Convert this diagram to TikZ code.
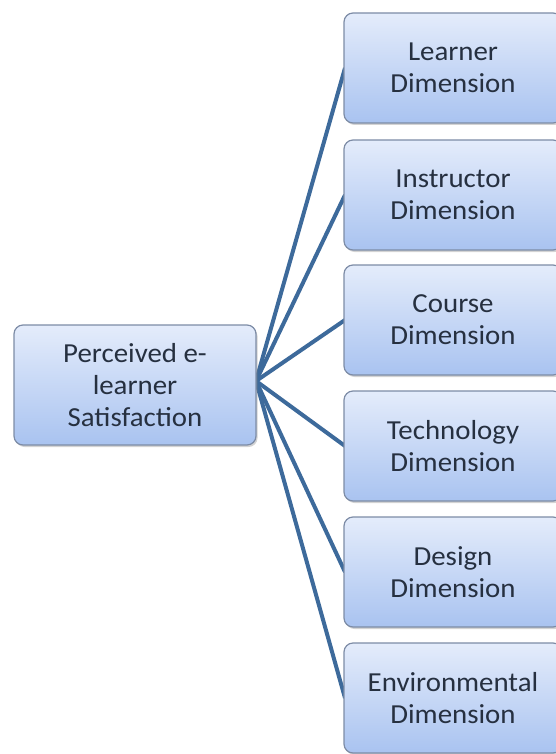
\documentclass[tikz,border=0pt]{standalone}
\usepackage{fontspec}
\setmainfont[FakeStretch=1.05]{Carlito}
\usetikzlibrary{shadows}

\definecolor{boxtop}{HTML}{E4ECFB}
\definecolor{boxbot}{HTML}{A9C3F0}
\definecolor{boxline}{HTML}{7D8CA6}
\definecolor{linkblue}{HTML}{3D6A9B}
\definecolor{txtgray}{HTML}{263040}

\tikzset{
  dimbox/.style={draw=boxline, line width=1.2pt, rounded corners=9pt,
    top color=boxtop, bottom color=boxbot, align=center,
    text=txtgray, font=\fontsize{27.5}{32}\selectfont,
    drop shadow={shadow xshift=1.5pt, shadow yshift=-2pt, opacity=0.35},
    minimum width=218pt, minimum height=110pt, inner sep=0pt},
  link/.style={draw=linkblue, line width=4pt}
}

\begin{document}
\begin{tikzpicture}[x=1pt, y=-1pt]
    \useasboundingbox (0,0) rectangle (555,754);
    % Links
    \coordinate (hub) at (256,381);
    \coordinate (l1) at (345,68);
    \coordinate (l2) at (345,195);
    \coordinate (l3) at (345,320);
    \coordinate (l4) at (345,446);
    \coordinate (l5) at (345,572);
    \coordinate (l6) at (345,698);
    \draw[link] (hub) -- (l1);
    \draw[link] (hub) -- (l2);
    \draw[link] (hub) -- (l3);
    \draw[link] (hub) -- (l4);
    \draw[link] (hub) -- (l5);
    \draw[link] (hub) -- (l6);
    % Main box
    \node[dimbox, minimum width=242pt, minimum height=120pt] (sat) at (135,385)
        {Perceived e-\\learner\\Satisfaction};
    % Dimension boxes
    \node[dimbox] (learner) at (453,68) {Learner\\Dimension};
    \node[dimbox] (instructor) at (453,195) {Instructor\\Dimension};
    \node[dimbox] (course) at (453,320) {Course\\Dimension};
    \node[dimbox] (technology) at (453,446) {Technology\\Dimension};
    \node[dimbox] (design) at (453,572) {Design\\Dimension};
    \node[dimbox] (environmental) at (453,698) {Environmental\\Dimension};
\end{tikzpicture}
\end{document}
